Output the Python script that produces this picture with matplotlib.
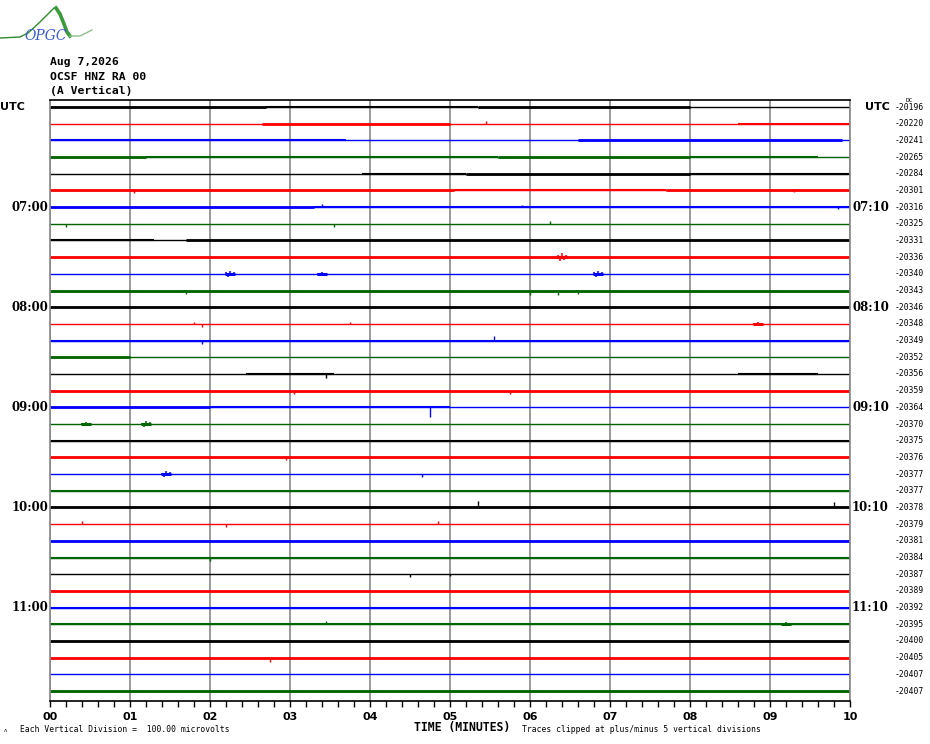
import matplotlib.pyplot as plt
from matplotlib.lines import Line2D
from matplotlib.ticker import MultipleLocator

W, H = 930, 744

# helicorder rows: 36 lines of 10 minutes, starting 06:00 UTC
n_rows = 36
colors = ['#000000', '#ff0000', '#0000ff', '#006400']
left_labels = {0: 'UTC', 6: '07:00', 12: '08:00', 18: '09:00', 24: '10:00', 30: '11:00'}
right_labels = {0: 'UTC', 6: '07:10', 12: '08:10', 18: '09:10', 24: '10:10', 30: '11:10'}
dc_values = [-20196, -20220, -20241, -20265, -20284, -20301, -20316, -20325, -20331,
             -20336, -20340, -20343, -20346, -20348, -20349, -20352, -20356, -20359,
             -20364, -20370, -20375, -20376, -20377, -20377, -20378, -20379, -20381,
             -20384, -20387, -20389, -20392, -20395, -20400, -20405, -20407, -20407]
minute_labels = ['00', '01', '02', '03', '04', '05', '06', '07', '08', '09', '10']

# noisy stretches (row, start minute, end minute)
dense_segments = [
    (0, 0.0, 2.7), (0, 5.35, 8.0), (1, 2.65, 5.0), (2, 6.6, 9.9),
    (3, 0.0, 1.2), (3, 5.6, 8.0), (4, 5.2, 8.0), (5, 0.0, 5.05), (5, 7.7, 10.0),
    (6, 0.0, 3.3), (8, 1.7, 10.0), (9, 0.0, 10.0), (11, 0.0, 10.0),
    (12, 0.0, 10.0), (15, 0.0, 1.0), (17, 0.0, 10.0), (18, 0.0, 2.0),
    (21, 0.0, 10.0), (24, 0.0, 10.0), (26, 0.0, 10.0), (29, 0.0, 10.0),
    (32, 0.0, 10.0), (33, 0.0, 10.0), (35, 0.0, 10.0),
]
medium_segments = [
    (0, 2.7, 5.35), (1, 8.6, 10.0), (2, 0.0, 3.7), (3, 1.2, 5.6), (3, 8.0, 9.6),
    (4, 3.9, 5.2), (4, 8.0, 10.0), (5, 5.05, 7.7), (6, 3.3, 10.0), (8, 0.0, 1.3),
    (14, 0.0, 10.0), (16, 2.45, 3.55), (16, 8.6, 9.6), (18, 2.0, 5.0),
    (20, 0.0, 10.0), (23, 0.0, 10.0), (27, 0.0, 10.0), (30, 0.0, 10.0),
    (31, 0.0, 10.0),
]
# single spikes (row, minute, amplitude in pixels, + = up)
spikes = [
    (1, 5.45, 3), (5, 1.05, -3), (5, 9.3, -2), (6, 3.4, 3), (6, 5.9, 2),
    (6, 9.85, -2), (7, 0.2, -3), (7, 3.55, -3), (7, 6.25, 3), (11, 1.7, -3),
    (11, 6.0, -4), (11, 6.35, -4), (11, 6.6, -3), (13, 1.8, 2), (13, 1.9, -3),
    (13, 3.75, 2), (14, 1.9, -3), (14, 5.55, 5), (16, 3.45, -4), (17, 3.05, -3),
    (17, 5.75, -3), (18, 4.75, -10), (21, 2.95, -3), (22, 4.65, -3),
    (24, 5.35, 6), (24, 9.8, 5), (25, 0.4, 3), (25, 2.2, -3), (25, 4.85, 3),
    (27, 2.0, -3), (28, 4.5, -3), (28, 5.0, -2), (31, 3.45, 3), (33, 2.75, -4),
]
# short bursts (row, minute, half amplitude in pixels)
bursts = [
    (9, 6.4, 4), (10, 2.25, 3), (10, 3.4, 2), (10, 6.85, 3), (13, 8.85, 2),
    (19, 0.45, 2), (19, 1.2, 3), (22, 1.45, 3), (31, 9.2, 2),
]
burst_shape = [(-0.05, 0.5), (-0.025, -1.0), (0.0, 1.0), (0.025, -0.7), (0.05, 0.6)]

row_px = (691 - 107) / (n_rows - 1)
px = 1.0 / row_px


def fx(x):
    return x / W


def fy(y):
    return 1 - y / H


fig = plt.figure(figsize=(9.3, 7.44), dpi=100)
ax = fig.add_axes([fx(50), fy(701), fx(800), 601 / H])
ax.set_xlim(0, 10)
ax.set_ylim((701 - 107) / row_px, -7 / row_px)

for m in range(11):
    ax.axvline(m, color='#888888', lw=1.2, zorder=1)

for r in range(n_rows):
    ax.hlines(r, 0, 10, color=colors[r % 4], lw=1.0, zorder=2)
for r, a, b in medium_segments:
    ax.hlines(r, a, b, color=colors[r % 4], lw=1.5, zorder=2)
for r, a, b in dense_segments:
    ax.hlines(r, a, b, color=colors[r % 4], lw=2.0, zorder=2)
for r, m, amp in spikes:
    ax.vlines(m, r, r - amp * px, color=colors[r % 4], lw=1.0, zorder=3)
for r, m, amp in bursts:
    for dx, k in burst_shape:
        ax.vlines(m + dx, r, r - amp * k * px, color=colors[r % 4], lw=1.1, zorder=3)
    ax.hlines(r, m - 0.06, m + 0.06, color=colors[r % 4], lw=2.2, zorder=3)

for s in ['left', 'right']:
    ax.spines[s].set_color('#888888')
    ax.spines[s].set_linewidth(1.2)
ax.spines['top'].set_linewidth(1.2)
ax.spines['bottom'].set_linewidth(1.2)

ax.set_yticks([])
ax.set_xticks(range(11))
ax.set_xticklabels(minute_labels, fontsize=8, fontweight='bold', family='DejaVu Sans')
ax.xaxis.set_minor_locator(MultipleLocator(0.2))
ax.tick_params(axis='x', which='both', direction='out', length=4.5, width=1, pad=3.5)

# row labels
for r, t in left_labels.items():
    y = fy(107 + r * row_px)
    if t == 'UTC':
        fig.text(fx(0), y, t, fontsize=8, fontweight='bold', va='center', ha='left')
    else:
        fig.text(fx(48), y, t, fontsize=8.5, fontweight='bold', family='DejaVu Serif',
                 va='center', ha='right')
for r, t in right_labels.items():
    y = fy(107 + r * row_px)
    if t == 'UTC':
        fig.text(fx(865), y, t, fontsize=8, fontweight='bold', va='center', ha='left')
    else:
        fig.text(fx(852), y, t, fontsize=8.5, fontweight='bold', family='DejaVu Serif',
                 va='center', ha='left')
for r, v in enumerate(dc_values):
    fig.text(fx(924), fy(107 + r * row_px), str(v), fontsize=5.8,
             family='DejaVu Sans Mono', va='center', ha='right')
fig.text(fx(909), fy(100), 'DC', fontsize=4.5, family='DejaVu Sans Mono',
         va='center', ha='center')

# header
for i, t in enumerate(['Aug 7,2026', 'OCSF HNZ RA 00', '(A Vertical)']):
    fig.text(fx(50), fy(62 + 14.5 * i), t, fontsize=8.2, family='DejaVu Sans Mono',
             fontweight='bold', va='center', ha='left')

# footer
fig.text(fx(462), fy(728), 'TIME (MINUTES)', fontsize=8.3, fontweight='bold',
         family='DejaVu Sans Mono', va='center', ha='center')
fig.text(fx(20), fy(730), 'Each Vertical Division =  100.00 microvolts', fontsize=5.8,
         family='DejaVu Sans Mono', va='center', ha='left')
fig.text(fx(522), fy(730), 'Traces clipped at plus/minus 5 vertical divisions',
         fontsize=5.8, family='DejaVu Sans Mono', va='center', ha='left')
fig.text(fx(5), fy(731), 'ᴧ', fontsize=4, va='center', ha='center')

# logo
logo_thin = ([0, 20, 28, 40, 48, 53, 56], [38, 37, 33, 22, 14, 9, 7])
logo_thick = ([56, 60, 64, 67, 70], [8, 14, 24, 32, 36])
logo_tail = ([70, 80, 92], [36, 36, 30])
for (xs, ys), c, lw in [(logo_thin, '#2e8b2e', 1.0), (logo_thick, '#3a9a3a', 2.6),
                        (logo_tail, '#8fc08f', 1.0)]:
    fig.add_artist(Line2D([fx(x) for x in xs], [fy(y) for y in ys], color=c, lw=lw))
fig.text(fx(46), fy(36), 'OPGC', fontsize=10, style='italic', family='DejaVu Serif',
         color='#3a5ad0', va='center', ha='center')

fig.savefig('out.png', dpi=100)
